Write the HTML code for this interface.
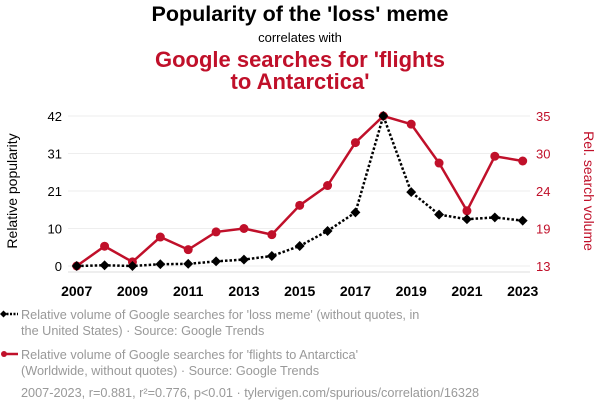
<!DOCTYPE html>
<html><head><meta charset="utf-8"><style>
body{margin:0;background:#fff;font-family:"Liberation Sans",sans-serif}
svg text{font-family:"Liberation Sans",sans-serif}
</style></head><body>
<svg id="c" width="600" height="414" xmlns="http://www.w3.org/2000/svg">
<text x="300" y="21" text-anchor="middle" font-size="21.5" font-weight="bold" fill="#000">Popularity of the 'loss' meme</text>
<text x="300" y="42" text-anchor="middle" font-size="13" fill="#000">correlates with</text>
<text x="300" y="67" text-anchor="middle" font-size="22" font-weight="bold" fill="#c0102a">Google searches for 'flights</text>
<text x="300" y="89" text-anchor="middle" font-size="22" font-weight="bold" fill="#c0102a">to Antarctica'</text>
<g id="grid"></g>
<g id="axes"></g>
<g id="marks"></g>
<text transform="translate(17,191) rotate(-90)" text-anchor="middle" font-size="14" fill="#000">Relative popularity</text>
<text transform="translate(584,191) rotate(90)" text-anchor="middle" font-size="14" fill="#c0102a">Rel. search volume</text>
<g>
<line x1="3" y1="314" x2="18" y2="314" stroke="#000" stroke-width="2.5" stroke-dasharray="2,1.5"/>
<rect x="1" y="311.5" width="5" height="5" transform="rotate(45 3.5 314)" fill="#000"/>
<text x="21" y="319" font-size="12.7" fill="#999">Relative volume of Google searches for 'loss meme' (without quotes, in</text>
<text x="21" y="335" font-size="12.7" fill="#999">the United States) · Source: Google Trends</text>
</g>
<g>
<line x1="3" y1="354" x2="18" y2="354" stroke="#c0102a" stroke-width="2.5"/>
<circle cx="4" cy="354" r="3" fill="#c0102a"/>
<text x="21" y="359" font-size="12.7" fill="#999">Relative volume of Google searches for 'flights to Antarctica'</text>
<text x="21" y="375" font-size="12.7" fill="#999">(Worldwide, without quotes) · Source: Google Trends</text>
</g>
<text x="21" y="397" font-size="12.7" fill="#999">2007-2023, r=0.881, r²=0.776, p&lt;0.01 · tylervigen.com/spurious/correlation/16328</text>
</svg>
<script>
const years=[2007,2008,2009,2010,2011,2012,2013,2014,2015,2016,2017,2018,2019,2020,2021,2022,2023];
const lossValues=[0,0.2,0,0.5,0.6,1.3,1.8,2.8,5.6,9.8,15,42,20.7,14.4,13.1,13.6,12.7];
const antarcticaValues=[13,15.9,13.6,17.25,15.4,18.0,18.5,17.6,21.9,24.8,31.1,35,33.8,28.1,21.1,29.1,28.4];
const leftTicks=[0,10.5,21,31.5,42];
const leftTickLabels=["0","10","21","31","42"];
const rightTicks=[13,18.5,24,29.5,35];
const rightTickLabels=["13","19","24","30","35"];
const xTickYears=[2007,2009,2011,2013,2015,2017,2019,2021,2023];
const NS="http://www.w3.org/2000/svg";
const X0=76.7,X1=522.7,Yb=266,Yt=116;
const x=y=>X0+(y-years[0])/(years[years.length-1]-years[0])*(X1-X0);
const yL=v=>Yb-(v-0)/(42-0)*(Yb-Yt);
const yR=v=>Yb-(v-13)/(35-13)*(Yb-Yt);
function mk(tag,attrs,parent,txt){const e=document.createElementNS(NS,tag);for(const k in attrs)e.setAttribute(k,attrs[k]);if(txt!==undefined)e.textContent=txt;document.getElementById(parent).appendChild(e);return e;}
leftTicks.forEach((t,i)=>{
 const g=mk('line',{x1:68,x2:530,y1:yL(t),y2:yL(t),stroke:'#eee','stroke-width':1},'grid');
 
 
 const l=mk('text',{x:62,y:yL(t)+5,'text-anchor':'end','font-size':13,fill:'#000'},'axes',leftTickLabels[i]);
 
 
});
rightTicks.forEach((t,i)=>{
 const l=mk('text',{x:536,y:yR(t)+5,'font-size':13,fill:'#c0102a'},'axes',rightTickLabels[i]);
 
 
});
const ax=mk('line',{x1:68,x2:530,y1:272,y2:272,stroke:'#ddd'},'axes');


xTickYears.forEach(yr=>{
 const l=mk('text',{x:x(yr),y:296,'text-anchor':'middle','font-size':14,'font-weight':'bold',fill:'#000'},'axes',String(yr));
 
 
});
const rp=mk('polyline',{points:years.map((y,i)=>x(y)+','+yR(antarcticaValues[i])).join(' '),fill:'none',stroke:'#c0102a','stroke-width':2.5},'marks');


years.forEach((y,i)=>{
 const c=mk('circle',{cx:x(y),cy:yR(antarcticaValues[i]),r:4.5,fill:'#c0102a'},'marks');
 
 
});
const bp=mk('polyline',{points:years.map((y,i)=>x(y)+','+yL(lossValues[i])).join(' '),fill:'none',stroke:'#000','stroke-width':2.5,'stroke-dasharray':'2.5,2'},'marks');


years.forEach((y,i)=>{
 const cx=x(y),cy=yL(lossValues[i]);
 const d=mk('rect',{x:cx-3.5,y:cy-3.5,width:7,height:7,fill:'#000',transform:`rotate(45 ${cx} ${cy})`},'marks');
 
 
});
</script>
</body></html>
